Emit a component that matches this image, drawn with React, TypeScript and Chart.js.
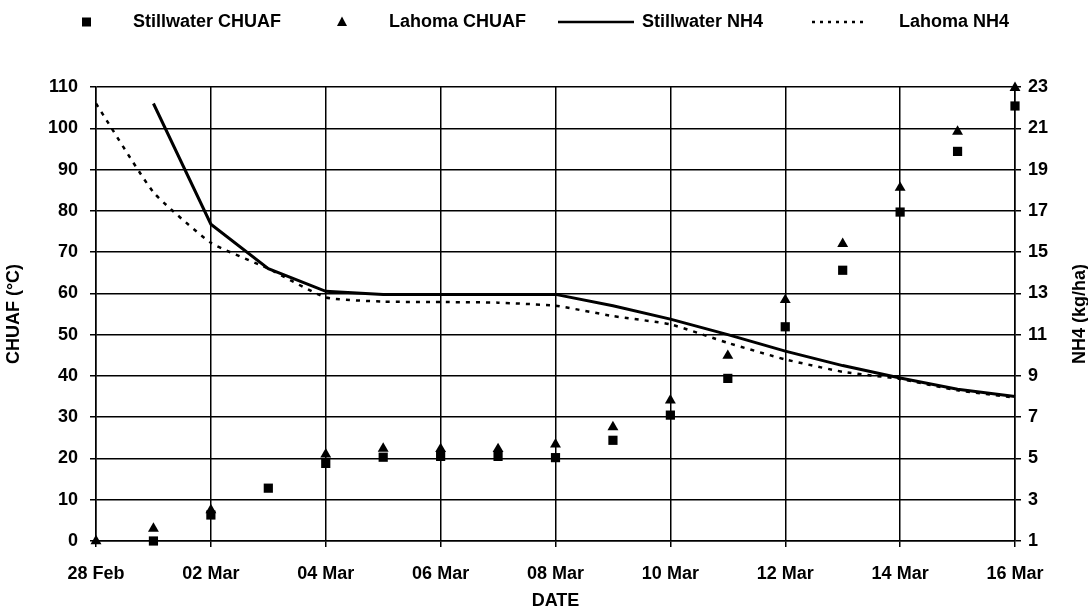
import React, { useEffect, useRef } from 'react';
import { Chart, registerables } from 'chart.js';

Chart.register(...registerables);

const dateLabels = [
  '28 Feb', '01 Mar', '02 Mar', '03 Mar', '04 Mar', '05 Mar', '06 Mar', '07 Mar', '08 Mar',
  '09 Mar', '10 Mar', '11 Mar', '12 Mar', '13 Mar', '14 Mar', '15 Mar', '16 Mar',
];

// CHUAF (°C), left axis
const stillwaterCHUAF = [null, 0, 6.3, 12.8, 18.8, 20.3, 20.5, 20.5, 20.2, 24.4, 30.5, 39.4, 51.9, 65.6, 79.7, 94.4, 105.4];
const lahomaCHUAF = [0, 3, 7.5, null, 21, 22.4, 22.3, 22.3, 23.4, 27.6, 34.1, 44.9, 58.4, 72, 85.6, 99.2, 109.8];

// NH4 (kg/ha), right axis
const stillwaterNH4 = [null, 22.2, 16.35, 14.2, 13.1, 12.95, 12.95, 12.95, 12.95, 12.4, 11.75, 11.0, 10.2, 9.5, 8.9, 8.35, 8.0];
const lahomaNH4 = [22.2, 17.9, 15.45, 14.2, 12.8, 12.6, 12.58, 12.55, 12.4, 11.9, 11.5, 10.6, 9.8, 9.2, 8.85, 8.3, 7.95];

const legendNames = ['Stillwater CHUAF', 'Lahoma CHUAF', 'Stillwater NH4', 'Lahoma NH4'];
const leftTitle = 'CHUAF (°C)';
const rightTitle = 'NH4 (kg/ha)';
const xTitle = 'DATE';

const FONT_FAMILY = "'Liberation Sans', Arial, Helvetica, sans-serif";
const font = { family: FONT_FAMILY, size: 18, weight: 'bold' as const };

const overlayPlugin = {
  id: 'overlayLegend',
  afterDraw(chart: any) {
    const ctx = chart.ctx as CanvasRenderingContext2D;
    ctx.save();
    ctx.fillStyle = '#000';
    ctx.strokeStyle = '#000';
    ctx.font = `bold 18px ${FONT_FAMILY}`;
    ctx.textBaseline = 'middle';
    ctx.textAlign = 'left';
    const ly = 22;
    // square
    ctx.fillRect(82, ly - 4.5, 9, 9);
    ctx.fillText(legendNames[0], 133, ly);
    // triangle
    ctx.beginPath();
    ctx.moveTo(342, ly - 5.5);
    ctx.lineTo(347, ly + 4);
    ctx.lineTo(337, ly + 4);
    ctx.closePath();
    ctx.fill();
    ctx.fillText(legendNames[1], 389, ly);
    // solid line
    ctx.lineWidth = 2.5;
    ctx.beginPath();
    ctx.moveTo(558, ly);
    ctx.lineTo(634, ly);
    ctx.stroke();
    ctx.fillText(legendNames[2], 642, ly);
    // dotted line
    ctx.setLineDash([3, 5]);
    ctx.beginPath();
    ctx.moveTo(812, ly);
    ctx.lineTo(866, ly);
    ctx.stroke();
    ctx.setLineDash([]);
    ctx.fillText(legendNames[3], 899, ly);

    // right axis title, reading bottom-to-top
    const area = chart.chartArea;
    ctx.translate(1080, (area.top + area.bottom) / 2);
    ctx.rotate(-Math.PI / 2);
    ctx.textAlign = 'center';
    ctx.fillText(rightTitle, 0, 0);
    ctx.restore();
  },
};

export default function App() {
  const canvasRef = useRef<HTMLCanvasElement | null>(null);

  useEffect(() => {
    document.body.style.margin = '0';
    const canvas = canvasRef.current;
    if (!canvas) return;
    const chart = new Chart(canvas, {
      type: 'line',
      data: {
        labels: dateLabels,
        datasets: [
          {
            label: legendNames[0],
            data: stillwaterCHUAF,
            yAxisID: 'y',
            showLine: false,
            pointStyle: 'rect',
            pointRadius: 6.5,
            pointBackgroundColor: '#000',
            pointBorderColor: '#000',
            pointBorderWidth: 0,
            backgroundColor: '#000',
            borderColor: '#000',
            clip: false,
          },
          {
            label: legendNames[1],
            data: lahomaCHUAF,
            yAxisID: 'y',
            showLine: false,
            pointStyle: 'triangle',
            pointRadius: 6.3,
            pointBackgroundColor: '#000',
            pointBorderColor: '#000',
            pointBorderWidth: 0,
            backgroundColor: '#000',
            borderColor: '#000',
            clip: false,
          },
          {
            label: legendNames[2],
            data: stillwaterNH4,
            yAxisID: 'y1',
            borderColor: '#000',
            borderWidth: 3,
            pointRadius: 0,
            tension: 0,
            fill: false,
          },
          {
            label: legendNames[3],
            data: lahomaNH4,
            yAxisID: 'y1',
            borderColor: '#000',
            borderWidth: 2.5,
            borderDash: [4, 6],
            pointRadius: 0,
            tension: 0.15,
            fill: false,
          },
        ],
      },
      options: {
        animation: false,
        responsive: false,
        devicePixelRatio: 1,
        layout: { padding: { top: 87, left: 0, right: 0, bottom: 0 } },
        plugins: {
          legend: { display: false },
          tooltip: { enabled: false },
        },
        scales: {
          x: {
            type: 'category',
            offset: false,
            grid: {
              color: (c: any) => (c.index % 2 === 0 ? '#000' : 'rgba(0,0,0,0)'),
              lineWidth: 1.5,
              tickLength: 6,
            },
            border: { color: '#000', width: 1.5 },
            ticks: {
              autoSkip: false,
              maxRotation: 0,
              minRotation: 0,
              color: '#000',
              font,
              padding: 16,
              callback: (_v: any, i: number) => (i % 2 === 0 ? dateLabels[i] : ''),
            },
            title: { display: true, text: xTitle, color: '#000', font, padding: { top: 0, bottom: 1 } },
            afterFit: (s: any) => { s.height = 72; },
          },
          y: {
            position: 'left',
            min: 0,
            max: 110,
            grid: { color: '#000', lineWidth: 1.5, tickLength: 6 },
            border: { color: '#000', width: 1.5 },
            ticks: { stepSize: 10, color: '#000', font, padding: 12 },
            title: { display: true, text: leftTitle, color: '#000', font, padding: { top: 3, bottom: 0 } },
            afterFit: (s: any) => { s.width = 96; },
          },
          y1: {
            position: 'right',
            min: 1,
            max: 23,
            grid: { drawOnChartArea: false, color: '#000', lineWidth: 1.5, tickLength: 6 },
            border: { color: '#000', width: 1.5 },
            ticks: { stepSize: 2, color: '#000', font, padding: 7 },
            afterFit: (s: any) => { s.width = 73; },
          },
        },
      },
      plugins: [overlayPlugin],
    } as any);
    return () => chart.destroy();
  }, []);

  return (
    <div style={{ width: 1088, height: 613, background: '#fff' }}>
      <canvas ref={canvasRef} width={1088} height={613} style={{ display: 'block' }} />
    </div>
  );
}
